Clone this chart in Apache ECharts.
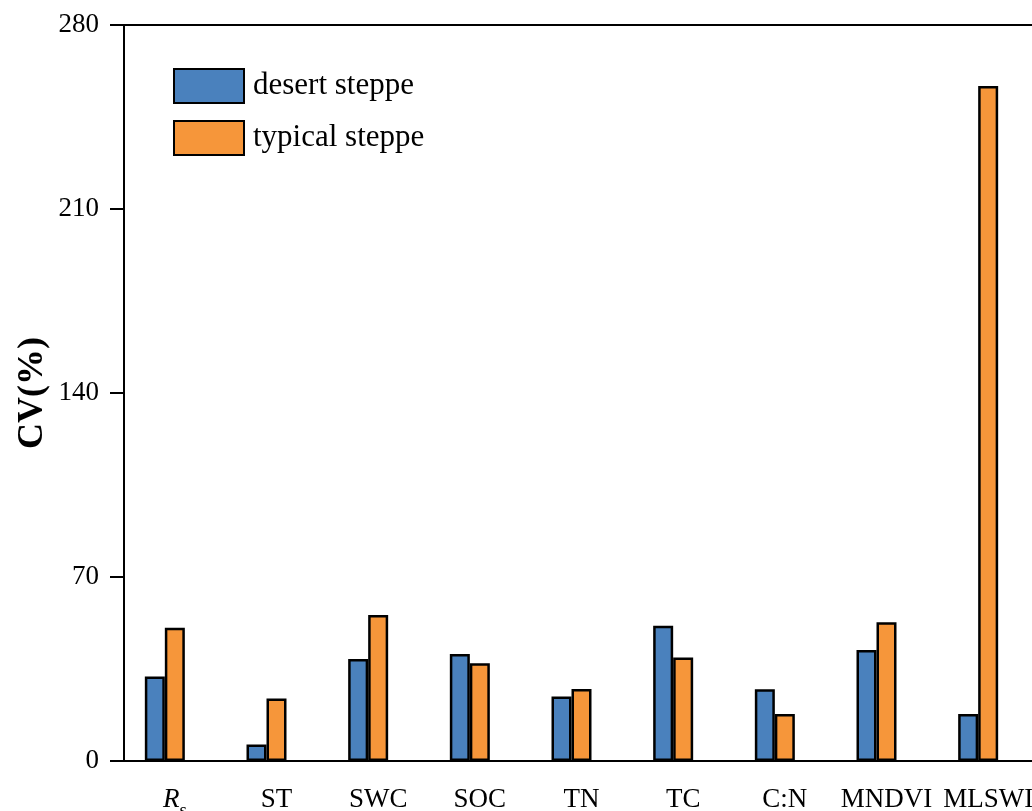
<!DOCTYPE html>
<html>
<head>
<meta charset="utf-8">
<script src="https://cdn.jsdelivr.net/npm/echarts@6/dist/echarts.min.js"></script>
<style>
  html, body { margin: 0; padding: 0; background: #fff; }
  #chart { width: 1032px; height: 811px; }
</style>
</head>
<body>
<div id="chart"></div>
<script>
// Coefficient of variation (%) for each variable, by steppe type
const categories = ['Rs', 'ST', 'SWC', 'SOC', 'TN', 'TC', 'C:N', 'MNDVI', 'MLSWI'];
const desertSteppe = [32.1, 6.3, 38.8, 40.7, 24.5, 51.5, 27.3, 42.2, 17.9];
const typicalSteppe = [50.7, 23.8, 55.5, 37.2, 27.4, 39.4, 17.9, 52.8, 256.8];
const emptySlot = categories.map(() => null);
const yTicks = { min: 0, max: 280, interval: 70 };
const yTitle = 'CV(%)';

const SERIF = '"Liberation Serif", "Times New Roman", serif';
const BLUE = '#4a81bd';
const ORANGE = '#f6963a';

const chart = echarts.init(document.getElementById('chart'), null, { renderer: 'canvas' });

const barBase = {
  type: 'bar',
  barWidth: 20,
  barGap: '0%',
  animation: false
};

chart.setOption({
  backgroundColor: '#fff',
  grid: {
    left: 124, top: 25, width: 915, height: 736,
    show: true, borderColor: '#000', borderWidth: 2,
    outerBoundsMode: 'none',
    containLabel: false
  },
  // vertical y-axis title, centred on the plot height
  graphic: [{
    type: 'text',
    x: 33, y: 393,
    rotation: Math.PI / 2,
    style: {
      text: yTitle,
      font: 'bold 36px ' + SERIF,
      fill: '#000',
      align: 'center',
      verticalAlign: 'middle'
    }
  }],
  legend: {
    data: ['desert steppe', 'typical steppe'],
    orient: 'vertical',
    left: 173, top: 68,
    padding: 0,
    icon: 'rect',
    itemWidth: 70, itemHeight: 34, itemGap: 16,
    textStyle: {
      fontFamily: SERIF, fontSize: 31, color: '#000',
      lineHeight: 34, padding: [0, 0, 0, 4]
    },
    selectedMode: false
  },
  xAxis: {
    type: 'category',
    data: categories,
    axisLine: { lineStyle: { color: '#000', width: 2 } },
    axisTick: { alignWithLabel: true, length: 13, inside: false, lineStyle: { color: '#000', width: 3 } },
    axisLabel: {
      interval: 0,
      margin: 25,
      fontFamily: SERIF, fontSize: 27, color: '#000',
      formatter: v => v === 'Rs' ? '{i|R}{s|s}' : v,
      rich: {
        i: { fontFamily: SERIF, fontSize: 27, fontStyle: 'italic', color: '#000', padding: [0, 0, 8, 0] },
        s: { fontFamily: SERIF, fontSize: 19, color: '#000', padding: [16, 0, 0, 0] }
      }
    }
  },
  yAxis: {
    type: 'value',
    min: yTicks.min, max: yTicks.max, interval: yTicks.interval,
    splitLine: { show: false },
    axisLine: { show: true, lineStyle: { color: '#000', width: 2 } },
    axisTick: { show: true, length: 14, lineStyle: { color: '#000', width: 2 } },
    axisLabel: { margin: 25, fontFamily: SERIF, fontSize: 27, color: '#000' }
  },
  series: [
    Object.assign({}, barBase, {
      name: 'desert steppe',
      data: desertSteppe,
      itemStyle: { color: BLUE, borderColor: '#000', borderWidth: 2.5 }
    }),
    Object.assign({}, barBase, {
      name: 'typical steppe',
      data: typicalSteppe,
      itemStyle: { color: ORANGE, borderColor: '#000', borderWidth: 2.5 }
    }),
    Object.assign({}, barBase, {
      name: 'slot',
      data: emptySlot,
      itemStyle: { color: 'transparent' }
    })
  ]
});
</script>
</body>
</html>
